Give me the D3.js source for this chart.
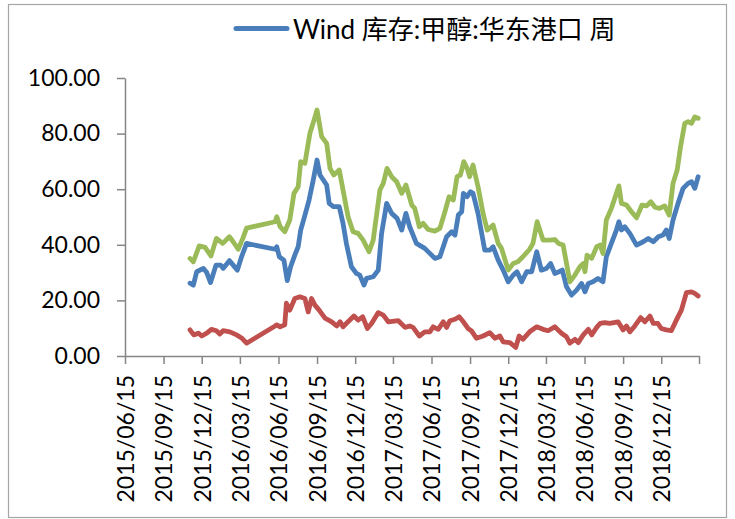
<!DOCTYPE html>
<html lang="zh">
  <head>
    <meta charset="UTF-8" />
    <title>库存:甲醇:华东港口</title>
    <style>
      body { margin: 0; background: #fff; }
      svg text { font-family: Lato, "Noto Sans CJK SC", sans-serif; fill: #000; }
    </style>
  </head>
  <body>
    <svg id="chart" width="735" height="519"></svg>
    <script src="https://cdn.jsdelivr.net/npm/d3@7"></script>
    <script>
      var width = 735;
      var height = 519;

      // x axis ticks (quarterly), last one carries no label
      var tickDates = ['2015-06-15', '2015-09-15', '2015-12-15', '2016-03-15', '2016-06-15',
        '2016-09-15', '2016-12-15', '2017-03-15', '2017-06-15', '2017-09-15', '2017-12-15',
        '2018-03-15', '2018-06-15', '2018-09-15', '2018-12-15', '2019-03-15'];
      var tickLabels = ['2015/06/15', '2015/09/15', '2015/12/15', '2016/03/15', '2016/06/15',
        '2016/09/15', '2016/12/15', '2017/03/15', '2017/06/15', '2017/09/15', '2017/12/15',
        '2018/03/15', '2018/06/15', '2018/09/15', '2018/12/15', ''];
      var yTicks = [0, 20, 40, 60, 80, 100];

      // blue: Wind 库存:甲醇:华东港口 周
      var blueDates = ['2015-11-17', '2015-11-25', '2015-12-03', '2015-12-19', '2015-12-27', '2016-01-05',
        '2016-01-18', '2016-01-29', '2016-02-04', '2016-02-19', '2016-02-28', '2016-03-09', '2016-03-19',
        '2016-03-31', '2016-06-07', '2016-06-11', '2016-06-17', '2016-06-28', '2016-07-06', '2016-07-14',
        '2016-07-24', '2016-08-01', '2016-08-07', '2016-08-15', '2016-08-27', '2016-09-06', '2016-09-15',
        '2016-09-22', '2016-10-08', '2016-10-14', '2016-10-24', '2016-11-07', '2016-11-16', '2016-11-24',
        '2016-12-06', '2016-12-18', '2016-12-26', '2017-01-05', '2017-01-11', '2017-01-27', '2017-02-08',
        '2017-02-16', '2017-02-28', '2017-03-12', '2017-03-25', '2017-04-05', '2017-04-15', '2017-04-24',
        '2017-05-10', '2017-05-30', '2017-06-11', '2017-06-23', '2017-07-05', '2017-07-21', '2017-08-02',
        '2017-08-10', '2017-08-18', '2017-08-26', '2017-08-30', '2017-09-08', '2017-09-16', '2017-09-22',
        '2017-10-04', '2017-10-20', '2017-11-01', '2017-11-09', '2017-11-21', '2017-12-03', '2017-12-15',
        '2017-12-27', '2018-01-05', '2018-01-16', '2018-01-28', '2018-02-09', '2018-02-21', '2018-03-04',
        '2018-03-16', '2018-03-26', '2018-04-05', '2018-04-15', '2018-04-23', '2018-05-03', '2018-05-15',
        '2018-05-27', '2018-06-08', '2018-06-16', '2018-06-24', '2018-07-05', '2018-07-17', '2018-07-29',
        '2018-08-06', '2018-08-18', '2018-08-30', '2018-09-05', '2018-09-11', '2018-09-19', '2018-10-01',
        '2018-10-17', '2018-11-02', '2018-11-14', '2018-11-26', '2018-12-08', '2018-12-19', '2018-12-27',
        '2019-01-03', '2019-01-12', '2019-01-24', '2019-02-05', '2019-02-17', '2019-02-25', '2019-03-05',
        '2019-03-13'];
      var blueValues = [26.2, 25.5, 30.3, 31.5, 30.0, 26.4,
        32.7, 32.7, 31.5, 34.3, 32.7, 30.9, 35.7,
        40.5, 38.4, 39.3, 35.7, 34.5, 27.1, 32.1,
        36.3, 39.3, 45.3, 49.5, 56.1, 63.3, 70.5,
        65.1, 61.5, 54.9, 53.7, 53.7, 47.7, 40.5,
        32.1, 29.7, 29.1, 25.5, 27.9, 28.5, 30.9,
        44.1, 54.9, 51.3, 49.5, 45.3, 51.3, 46.5,
        40.5, 38.7, 36.9, 35.1, 35.7, 42.9, 44.7,
        43.5, 50.7, 51.9, 58.5, 57.3, 59.1, 58.5,
        51.3, 38.1, 38.1, 39.3, 34.5, 30.9, 26.7,
        29.1, 30.3, 26.7, 30.3, 30.3, 37.5, 30.9,
        31.5, 33.3, 29.7, 30.3, 30.9, 24.9, 21.9,
        23.7, 26.1, 23.1, 26.1, 26.7, 27.9, 26.7,
        35.7, 40.5, 45.3, 48.3, 45.3, 46.5, 44.1,
        39.9, 41.1, 42.3, 41.1, 42.9, 43.5, 45.3,
        42.3, 48.9, 54.9, 60.3, 62.1, 62.7, 60.3,
        64.5];

      // green
      var greenDates = ['2015-11-17', '2015-11-25', '2015-12-09', '2015-12-23', '2016-01-06', '2016-01-19',
        '2016-02-03', '2016-02-19', '2016-02-28', '2016-03-11', '2016-03-22', '2016-03-31', '2016-06-07',
        '2016-06-11', '2016-06-19', '2016-06-30', '2016-07-12', '2016-07-22', '2016-08-01', '2016-08-07',
        '2016-08-17', '2016-08-29', '2016-09-08', '2016-09-15', '2016-09-26', '2016-10-08', '2016-10-16',
        '2016-10-25', '2016-11-07', '2016-11-16', '2016-11-28', '2016-12-10', '2016-12-22', '2017-01-03',
        '2017-01-17', '2017-01-27', '2017-02-12', '2017-02-20', '2017-03-01', '2017-03-12', '2017-03-24',
        '2017-04-05', '2017-04-15', '2017-04-29', '2017-05-06', '2017-05-17', '2017-05-26', '2017-06-07',
        '2017-06-23', '2017-07-05', '2017-07-17', '2017-07-27', '2017-08-06', '2017-08-15', '2017-08-23',
        '2017-08-31', '2017-09-08', '2017-09-14', '2017-09-22', '2017-10-04', '2017-10-16', '2017-10-26',
        '2017-11-09', '2017-11-21', '2017-11-29', '2017-12-15', '2017-12-27', '2018-01-07', '2018-01-19',
        '2018-02-04', '2018-02-12', '2018-02-22', '2018-03-08', '2018-03-24', '2018-04-05', '2018-04-14',
        '2018-04-25', '2018-05-03', '2018-05-11', '2018-05-23', '2018-06-04', '2018-06-12', '2018-06-16',
        '2018-06-21', '2018-07-02', '2018-07-14', '2018-07-22', '2018-07-29', '2018-08-06', '2018-08-18',
        '2018-08-30', '2018-09-05', '2018-09-11', '2018-09-23', '2018-10-05', '2018-10-17', '2018-10-30',
        '2018-11-10', '2018-11-20', '2018-11-30', '2018-12-11', '2018-12-23', '2019-01-03', '2019-01-12',
        '2019-01-22', '2019-01-30', '2019-02-09', '2019-02-17', '2019-02-25', '2019-03-05', '2019-03-13'];
      var greenValues = [35.1, 33.9, 39.6, 39.1, 36.0, 42.3,
        40.5, 42.9, 41.1, 38.4, 42.3, 46.0, 48.3,
        50.1, 46.5, 44.7, 48.9, 58.5, 60.9, 69.9,
        69.3, 80.1, 84.9, 88.5, 78.9, 76.5, 67.5,
        65.1, 66.9, 59.7, 50.1, 44.7, 44.1, 41.7,
        37.5, 41.7, 59.7, 62.1, 67.5, 64.5, 62.7,
        58.5, 61.5, 54.3, 53.1, 46.5, 47.7, 45.5,
        44.9, 45.9, 51.9, 57.3, 56.1, 64.5, 65.1,
        69.9, 67.5, 64.5, 68.7, 60.9, 51.3, 45.3,
        47.1, 40.5, 38.7, 30.9, 33.3, 33.9, 35.7,
        38.4, 40.5, 48.3, 41.7, 41.7, 41.9, 40.5,
        39.9, 33.3, 26.7, 29.1, 32.1, 33.3, 30.3,
        36.3, 35.1, 39.3, 39.9, 36.9, 48.9, 53.1,
        58.5, 61.2, 54.9, 54.3, 51.9, 49.7, 54.3,
        54.0, 55.5, 53.5, 53.1, 54.0, 50.7, 62.1,
        66.9, 75.3, 83.7, 84.3, 83.7, 86.0, 85.5];

      // red
      var redDates = ['2015-11-17', '2015-11-26', '2015-12-07', '2015-12-15', '2015-12-27', '2016-01-07',
        '2016-01-19', '2016-01-27', '2016-02-04', '2016-02-20', '2016-03-07', '2016-03-19', '2016-03-31',
        '2016-06-07', '2016-06-11', '2016-06-19', '2016-06-30', '2016-07-04', '2016-07-12', '2016-07-24',
        '2016-08-05', '2016-08-17', '2016-08-25', '2016-09-02', '2016-09-10', '2016-09-20', '2016-10-04',
        '2016-10-20', '2016-11-01', '2016-11-09', '2016-11-16', '2016-11-28', '2016-12-12', '2016-12-22',
        '2017-01-02', '2017-01-13', '2017-01-23', '2017-02-08', '2017-02-20', '2017-03-04', '2017-03-28',
        '2017-04-13', '2017-04-24', '2017-05-02', '2017-05-17', '2017-05-30', '2017-06-11', '2017-06-19',
        '2017-07-01', '2017-07-13', '2017-07-21', '2017-07-29', '2017-08-10', '2017-08-20', '2017-08-30',
        '2017-09-10', '2017-09-18', '2017-09-30', '2017-10-16', '2017-11-01', '2017-11-13', '2017-11-25',
        '2017-12-03', '2017-12-19', '2018-01-02', '2018-01-10', '2018-01-19', '2018-02-04', '2018-02-21',
        '2018-03-08', '2018-03-20', '2018-04-05', '2018-04-21', '2018-05-03', '2018-05-11', '2018-05-23',
        '2018-05-31', '2018-06-12', '2018-06-24', '2018-07-02', '2018-07-14', '2018-07-22', '2018-08-02',
        '2018-08-14', '2018-09-03', '2018-09-15', '2018-09-23', '2018-10-01', '2018-10-13', '2018-10-27',
        '2018-11-06', '2018-11-18', '2018-11-26', '2018-12-07', '2018-12-15', '2018-12-27', '2019-01-08',
        '2019-01-20', '2019-02-01', '2019-02-13', '2019-02-25', '2019-03-05', '2019-03-13'];
      var redValues = [9.4, 7.6, 8.2, 7.2, 8.2, 9.6,
        9.1, 7.9, 9.1, 8.7, 7.6, 6.5, 4.6,
        10.8, 11.2, 10.5, 11.2, 19.0, 16.5, 20.7,
        21.3, 20.7, 15.9, 20.7, 18.3, 16.5, 13.6,
        12.3, 10.8, 12.3, 10.5, 12.3, 14.4, 12.9,
        14.1, 9.9, 11.7, 15.6, 14.7, 12.3, 12.7,
        10.3, 10.8, 10.3, 7.2, 8.7, 8.7, 10.5,
        9.6, 12.3, 10.3, 12.7, 13.2, 14.1, 12.3,
        9.9, 9.1, 6.4, 7.2, 8.4, 6.4, 7.2,
        5.1, 4.8, 3.1, 7.2, 6.0, 8.7, 10.5,
        9.6, 9.1, 10.5, 8.2, 6.9, 4.6, 6.0,
        4.8, 7.6, 9.6, 7.6, 10.3, 11.7, 12.0,
        11.7, 12.3, 9.4, 10.8, 8.7, 10.8, 13.8,
        12.3, 14.4, 11.7, 11.7, 9.9, 9.4, 9.1,
        12.9, 16.5, 22.8, 23.1, 22.5, 21.6];

      var legendLabel = 'Wind 库存:甲醇:华东港口 周';

      var parse = d3.timeParse('%Y-%m-%d');
      var svg = d3.select('#chart');

      var x = d3.scaleTime()
        .domain([parse(tickDates[0]), parse(tickDates[tickDates.length - 1])])
        .range([125, 699]);
      var y = d3.scaleLinear().domain([0, 100]).range([356, 78]);

      // chart border
      svg.append('rect')
        .attr('x', 8.5).attr('y', 4.5)
        .attr('width', 718).attr('height', 513)
        .attr('fill', 'none')
        .attr('stroke', '#a6a6a6')
        .attr('stroke-width', 1.2);

      function styleAxis(g) {
        g.select('.domain').attr('stroke', '#868686').attr('stroke-width', 1.5);
        g.selectAll('.tick line').attr('stroke', '#868686').attr('stroke-width', 1.5);
        g.selectAll('.tick text').attr('fill', '#000');
      }

      svg.append('g')
        .attr('transform', 'translate(125,0)')
        .call(d3.axisLeft(y)
          .tickValues(yTicks)
          .tickFormat(d3.format('.2f'))
          .tickSize(8)
          .tickSizeOuter(0)
          .tickPadding(17))
        .call(styleAxis)
        .call(g => g.selectAll('.tick text').style('font-size', '23px'));

      var xAxis = svg.append('g')
        .attr('transform', 'translate(0,356)')
        .call(d3.axisBottom(x)
          .tickValues(tickDates.map(parse))
          .tickFormat((d, i) => tickLabels[i])
          .tickSize(8)
          .tickSizeOuter(0))
        .call(styleAxis);

      xAxis.selectAll('.tick text')
        .style('font-size', '23px')
        .attr('text-anchor', 'end')
        .attr('transform', 'rotate(-90)')
        .attr('x', -19)
        .attr('y', 0)
        .attr('dy', '0.36em');

      var line = d3.line()
        .x(d => x(d.date))
        .y(d => y(d.value));

      var series = [
        { color: '#4a7ebb', dates: blueDates, values: blueValues },
        { color: '#9bbb59', dates: greenDates, values: greenValues },
        { color: '#c0504d', dates: redDates, values: redValues }
      ];

      svg.append('g')
        .attr('fill', 'none')
        .attr('stroke-width', 4.8)
        .attr('stroke-linejoin', 'round')
        .attr('stroke-linecap', 'round')
        .selectAll('path')
        .data(series)
        .join('path')
        .attr('stroke', d => d.color)
        .attr('d', d => line(d.dates.map((t, i) => ({ date: parse(t), value: d.values[i] }))));

      // legend (only the first series, as in the original)
      var legend = svg.append('g');
      legend.append('line')
        .attr('x1', 236).attr('x2', 287)
        .attr('y1', 28.5).attr('y2', 28.5)
        .attr('stroke', '#4a7ebb')
        .attr('stroke-width', 5)
        .attr('stroke-linecap', 'round');
      legend.append('text')
        .attr('x', 293)
        .attr('y', 38.5)
        .style('font-size', '26px')
        .text(legendLabel);
    </script>
  </body>
</html>
